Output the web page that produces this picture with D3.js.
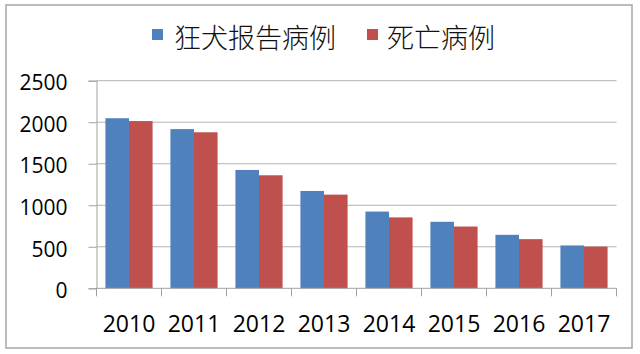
<!DOCTYPE html>
<html>
<head>
<meta charset="utf-8">
<script src="https://cdn.jsdelivr.net/npm/d3@7"></script>
<style>
  html, body { margin: 0; padding: 0; background: #fff; }
  svg { display: block; }
</style>
</head>
<body>
<svg id="chart" width="640" height="354"></svg>
<script>
// data
let years = ["2010", "2011", "2012", "2013", "2014", "2015", "2016", "2017"];
let reported = [2048, 1917, 1425, 1172, 924, 801, 644, 516];
let deaths = [2014, 1879, 1361, 1128, 854, 744, 592, 502];
let series_names = ["狂犬报告病例", "死亡病例"];
let series_colors = ["#4f81bd", "#c0504d"];
let y_ticks = [0, 500, 1000, 1500, 2000, 2500];

let svg = d3.select("#chart");

let plot_left = 96.5, plot_right = 616.5;
let plot_top = 80.7, plot_bottom = 288.3;

// outer frame
svg.append("rect")
  .attr("x", 6).attr("y", 5)
  .attr("width", 626).attr("height", 343)
  .attr("fill", "none")
  .attr("stroke", "#a6a6a6").attr("stroke-width", 1.5);

let x = d3.scaleBand().domain(years).range([plot_left, plot_right]).paddingInner(0).paddingOuter(0);
let x_inner = d3.scaleBand().domain([0, 1]).range([0, x.bandwidth()]).paddingOuter(14 / 37).paddingInner(0);
let y = d3.scaleLinear().domain([0, 2500]).range([plot_bottom, plot_top]);

// gridlines
svg.append("g").selectAll("line")
  .data(y_ticks.filter(d => d > 0)).enter().append("line")
  .attr("x1", plot_left).attr("x2", plot_right)
  .attr("y1", d => y(d)).attr("y2", d => y(d))
  .attr("stroke", "#b3b3b3").attr("stroke-width", 1);

// bars
let rows = years.map((yr, i) => ({ year: yr, vals: [reported[i], deaths[i]] }));
let groups = svg.append("g").selectAll(".year")
  .data(rows).enter().append("g")
  .attr("class", "year")
  .attr("transform", d => "translate(" + x(d.year) + ",0)");

groups.selectAll("rect")
  .data(d => d.vals).enter().append("rect")
  .attr("x", (d, i) => x_inner(i))
  .attr("width", x_inner.bandwidth())
  .attr("y", d => y(d))
  .attr("height", d => y(0) - y(d))
  .attr("fill", (d, i) => series_colors[i]);

// y axis
let y_axis = svg.append("g")
  .attr("transform", "translate(" + plot_left + ",0)")
  .call(d3.axisLeft(y).tickValues(y_ticks).tickFormat(d3.format("d")).tickSize(8).tickPadding(21));
y_axis.select(".domain").attr("stroke", "#a0a0a0");
y_axis.selectAll(".tick line").attr("stroke", "#a0a0a0");
y_axis.selectAll(".tick text")
  .attr("font-family", "'Open Sans', 'Noto Sans', sans-serif")
  .attr("font-size", 21)
  .attr("fill", "#000")
  .attr("dy", "0.44em");

// x axis
let x_axis = svg.append("g")
  .attr("transform", "translate(0," + plot_bottom + ")")
  .call(d3.axisBottom(x).tickSize(0).tickPadding(0));
x_axis.select(".domain").attr("stroke", "#a0a0a0").attr("d", "M" + plot_left + ",0H" + plot_right);
x_axis.selectAll(".tick text")
  .attr("font-family", "'Open Sans', 'Noto Sans', sans-serif")
  .attr("font-size", 23)
  .attr("fill", "#000")
  .attr("y", 35)
  .attr("dy", "0.36em");

// category separators under the x axis
svg.append("g").selectAll("line")
  .data(years.concat(["end"])).enter().append("line")
  .attr("x1", d => d === "end" ? plot_right : x(d))
  .attr("x2", d => d === "end" ? plot_right : x(d))
  .attr("y1", plot_bottom).attr("y2", plot_bottom + 8)
  .attr("stroke", "#a0a0a0");

// legend
let legend_pos = [[152, 174], [367, 387]];
let legend = svg.append("g").selectAll(".legend")
  .data(series_names).enter().append("g").attr("class", "legend");
legend.append("rect")
  .attr("x", (d, i) => legend_pos[i][0]).attr("y", 29)
  .attr("width", 11).attr("height", 11)
  .attr("fill", (d, i) => series_colors[i]);
legend.append("text")
  .attr("x", (d, i) => legend_pos[i][1]).attr("y", 36.5)
  .attr("dominant-baseline", "central")
  .attr("font-family", "'Noto Sans CJK SC', sans-serif")
  .attr("font-size", 27)
  .attr("font-weight", 300)
  .attr("fill", "#111")
  .text(d => d);
</script>
</body>
</html>
